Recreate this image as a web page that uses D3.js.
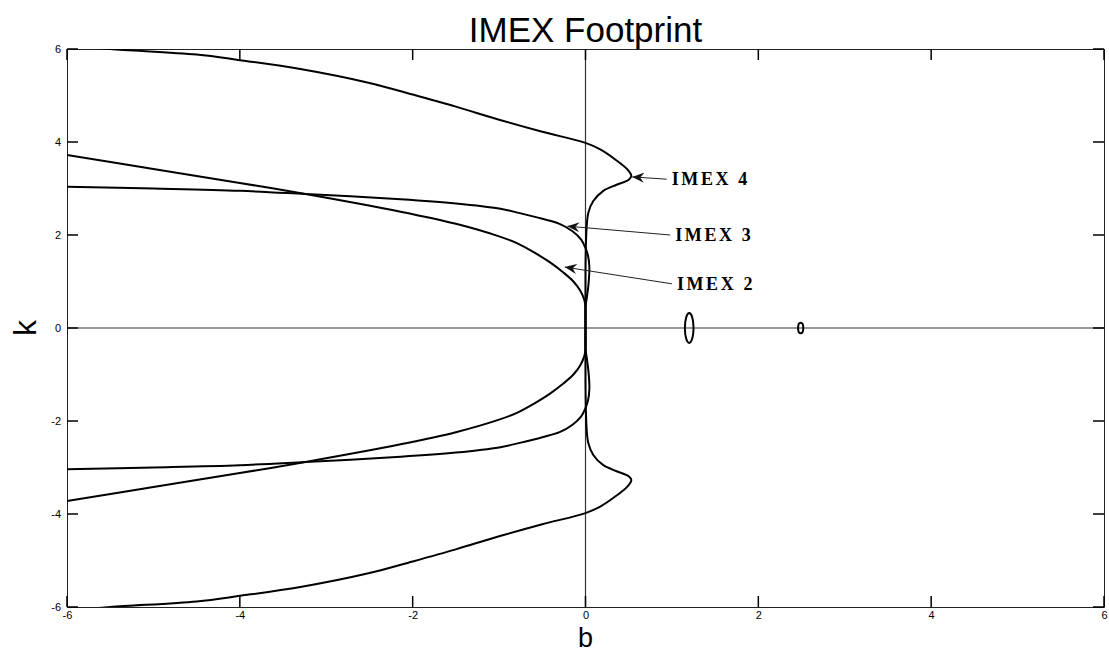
<!DOCTYPE html>
<html>
<head>
<meta charset="utf-8">
<script src="https://cdn.jsdelivr.net/npm/d3@7"></script>
<style>
  html, body { margin: 0; padding: 0; background: #fff; }
  svg { display: block; }
</style>
</head>
<body>
<svg id="chart" width="1109" height="653"></svg>
<script>
// Stability footprint boundaries in the (b, k) plane, listed from top to bottom.
const imex4 = [
  [-5.9, 6.07], [-5.5, 6.0], [-4.5, 5.88], [-4.0, 5.76], [-3.3, 5.57], [-2.5, 5.27],
  [-2.0, 5.02], [-1.5, 4.76], [-1.0, 4.48], [-0.5, 4.22], [0.0, 3.98], [0.17, 3.84],
  [0.34, 3.63], [0.49, 3.4], [0.53, 3.27], [0.5, 3.19], [0.36, 3.08], [0.206, 2.95],
  [0.09, 2.73], [0.033, 2.48], [0.014, 2.19], [0.004, 1.72], [0.0, 1.2], [0.0, 0.0],
  [0.0, -1.2], [0.004, -1.72], [0.014, -2.19], [0.033, -2.48], [0.09, -2.73], [0.206, -2.95],
  [0.36, -3.08], [0.5, -3.19], [0.53, -3.27], [0.49, -3.4], [0.34, -3.63], [0.17, -3.84],
  [0.0, -3.98], [-0.5, -4.22], [-1.0, -4.48], [-1.5, -4.76], [-2.0, -5.02], [-2.5, -5.27],
  [-3.3, -5.57], [-4.0, -5.76], [-4.5, -5.88], [-5.5, -6.0], [-5.9, -6.07]
];
const imex3 = [
  [-6.0, 3.04], [-5.0, 3.0], [-4.0, 2.95], [-3.24, 2.88], [-2.14, 2.77], [-1.5, 2.68],
  [-1.0, 2.57], [-0.76, 2.47], [-0.5, 2.35], [-0.3, 2.24], [-0.15, 2.08], [-0.05, 1.9],
  [0.0, 1.72], [0.03, 1.55], [0.045, 1.3], [0.035, 0.95], [0.015, 0.65], [0.0, 0.45],
  [0.0, 0.0],
  [0.0, -0.45], [0.015, -0.65], [0.035, -0.95], [0.045, -1.3], [0.03, -1.55], [0.0, -1.72],
  [-0.05, -1.9], [-0.15, -2.08], [-0.3, -2.24], [-0.5, -2.35], [-0.76, -2.47], [-1.0, -2.57],
  [-1.5, -2.68], [-2.14, -2.77], [-3.24, -2.88], [-4.0, -2.95], [-5.0, -3.0], [-6.0, -3.04]
];
const imex2 = [
  [-6.0, 3.72], [-5.0, 3.42], [-4.0, 3.12], [-3.24, 2.88], [-2.14, 2.5], [-1.5, 2.24],
  [-1.0, 1.97], [-0.8, 1.83], [-0.59, 1.62], [-0.41, 1.41], [-0.26, 1.2], [-0.14, 1.0],
  [-0.06, 0.8], [-0.013, 0.6], [0.0, 0.45], [0.0, 0.0],
  [0.0, -0.45], [-0.013, -0.6], [-0.06, -0.8], [-0.14, -1.0], [-0.26, -1.2], [-0.41, -1.41],
  [-0.59, -1.62], [-0.8, -1.83], [-1.0, -1.97], [-1.5, -2.24], [-2.14, -2.5], [-3.24, -2.88],
  [-4.0, -3.12], [-5.0, -3.42], [-6.0, -3.72]
];
const curves = [imex4, imex3, imex2];

// Small closed islands on the positive b axis: [centre b, centre k, half-width b, half-height k]
const islands = [
  [1.2, 0.0, 0.05, 0.32],
  [2.49, 0.0, 0.03, 0.115]
];

// Annotations: label, arrow tip (b, k), arrow tail / label anchor (b, k)
const labels = ["IMEX 4", "IMEX 3", "IMEX 2"];
const arrowTips = [[0.54, 3.25], [-0.21, 2.19], [-0.24, 1.31]];
const arrowTails = [[0.94, 3.2], [0.98, 2.0], [1.0, 0.95]];

const xTicks = [-6, -4, -2, 0, 2, 4, 6];
const yTicks = [-6, -4, -2, 0, 2, 4, 6];
const xDomain = [-6, 6];
const yDomain = [-6, 6];

const svg = d3.select("#chart");
const plotLeft = 67, plotRight = 1104, plotTop = 49, plotBottom = 607;

const x = d3.scaleLinear().domain(xDomain).range([plotLeft, plotRight]);
const y = d3.scaleLinear().domain(yDomain).range([plotBottom, plotTop]);

const defs = svg.append("defs");
defs.append("clipPath").attr("id", "plotclip")
  .append("rect").attr("x", plotLeft).attr("y", plotTop)
  .attr("width", plotRight - plotLeft).attr("height", plotBottom - plotTop);

const marker = defs.append("marker")
  .attr("id", "head").attr("viewBox", "0 0 12 10")
  .attr("refX", 12).attr("refY", 5)
  .attr("markerWidth", 12).attr("markerHeight", 10)
  .attr("markerUnits", "userSpaceOnUse")
  .attr("orient", "auto");
marker.append("path").attr("d", "M0,0 L12,5 L0,10 L4,5 Z").attr("fill", "#111");

// Axis lines through the origin
svg.append("line")
  .attr("x1", x(0)).attr("x2", x(0)).attr("y1", plotTop).attr("y2", plotBottom)
  .attr("stroke", "#333").attr("stroke-width", 1.2);
svg.append("line")
  .attr("x1", plotLeft).attr("x2", plotRight).attr("y1", y(0)).attr("y2", y(0))
  .attr("stroke", "#333").attr("stroke-width", 1.2);

// Frame and tick labels
const axisStyle = g => {
  g.select(".domain").attr("stroke", "#222").attr("stroke-width", 1);
  g.selectAll(".tick line").remove();
  g.selectAll(".tick text").attr("fill", "#000")
    .style("font-family", "'Liberation Sans', Arial, sans-serif").style("font-size", "11px");
};
svg.append("g").attr("transform", `translate(0,${plotBottom})`)
  .call(d3.axisBottom(x).tickValues(xTicks).tickSize(0).tickPadding(4).tickFormat(d3.format("d")))
  .call(axisStyle);
svg.append("g").attr("transform", `translate(0,${plotTop})`)
  .call(d3.axisTop(x).tickValues(xTicks).tickSize(0).tickFormat(""))
  .call(axisStyle);
svg.append("g").attr("transform", `translate(${plotLeft},0)`)
  .call(d3.axisLeft(y).tickValues(yTicks).tickSize(0).tickPadding(6).tickFormat(d3.format("d")))
  .call(axisStyle);
svg.append("g").attr("transform", `translate(${plotRight},0)`)
  .call(d3.axisRight(y).tickValues(yTicks).tickSize(0).tickFormat(""))
  .call(axisStyle);

// Minus signs as hyphen-style glyphs
svg.selectAll(".tick text").text(function () { return d3.select(this).text().replace("\u2212", "-"); });

// Inward tick marks on all four sides
const tickLen = 11;
const tickStyle = sel => sel.attr("stroke", "#000").attr("stroke-width", 1.5);
const ticks = svg.append("g");
ticks.selectAll("line.xb").data(xTicks).join("line").attr("class", "xb")
  .attr("x1", d => x(d)).attr("x2", d => x(d)).attr("y1", plotBottom).attr("y2", plotBottom - tickLen)
  .call(tickStyle);
ticks.selectAll("line.xt").data(xTicks).join("line").attr("class", "xt")
  .attr("x1", d => x(d)).attr("x2", d => x(d)).attr("y1", plotTop).attr("y2", plotTop + tickLen)
  .call(tickStyle);
ticks.selectAll("line.yl").data(yTicks).join("line").attr("class", "yl")
  .attr("y1", d => y(d)).attr("y2", d => y(d)).attr("x1", plotLeft).attr("x2", plotLeft + tickLen)
  .call(tickStyle);
ticks.selectAll("line.yr").data(yTicks).join("line").attr("class", "yr")
  .attr("y1", d => y(d)).attr("y2", d => y(d)).attr("x1", plotRight).attr("x2", plotRight - tickLen)
  .call(tickStyle);

// Footprint curves
const line = d3.line().x(d => x(d[0])).y(d => y(d[1])).curve(d3.curveCatmullRom.alpha(0.5));
svg.append("g").attr("clip-path", "url(#plotclip)")
  .selectAll("path").data(curves).join("path")
  .attr("d", line)
  .attr("fill", "none").attr("stroke", "#000").attr("stroke-width", 2)
  .attr("stroke-linejoin", "round");

svg.append("g").selectAll("ellipse").data(islands).join("ellipse")
  .attr("cx", d => x(d[0])).attr("cy", d => y(d[1]))
  .attr("rx", d => x(d[0] + d[2]) - x(d[0]))
  .attr("ry", d => y(d[1]) - y(d[1] + d[3]))
  .attr("fill", "none").attr("stroke", "#000").attr("stroke-width", 2);

// Annotation arrows and labels
const ann = svg.append("g");
ann.selectAll("line").data(labels).join("line")
  .attr("x1", (d, i) => x(arrowTails[i][0])).attr("y1", (d, i) => y(arrowTails[i][1]))
  .attr("x2", (d, i) => x(arrowTips[i][0])).attr("y2", (d, i) => y(arrowTips[i][1]))
  .attr("stroke", "#222").attr("stroke-width", 1)
  .attr("marker-end", "url(#head)");
ann.selectAll("text").data(labels).join("text")
  .attr("x", (d, i) => x(arrowTails[i][0]) + 5)
  .attr("y", (d, i) => y(arrowTails[i][1]) + 6)
  .text(d => d)
  .style("font-family", "'Liberation Serif', 'Times New Roman', serif")
  .style("font-weight", "bold").style("font-size", "18px")
  .style("letter-spacing", "2.6px").attr("fill", "#000");

// Title and axis labels
svg.append("text").attr("x", (plotLeft + plotRight) / 2).attr("y", 42)
  .attr("text-anchor", "middle").text("IMEX Footprint")
  .style("font-family", "'Liberation Sans', Arial, sans-serif").style("font-size", "35px");
svg.append("text").attr("x", (plotLeft + plotRight) / 2).attr("y", 647)
  .attr("text-anchor", "middle").text("b")
  .style("font-family", "'Liberation Sans', Arial, sans-serif").style("font-size", "27px");
svg.append("text").attr("transform", `translate(36,${y(0)}) rotate(-90)`)
  .attr("text-anchor", "middle").text("k")
  .style("font-family", "'Liberation Sans', Arial, sans-serif").style("font-size", "32px");
</script>
</body>
</html>
